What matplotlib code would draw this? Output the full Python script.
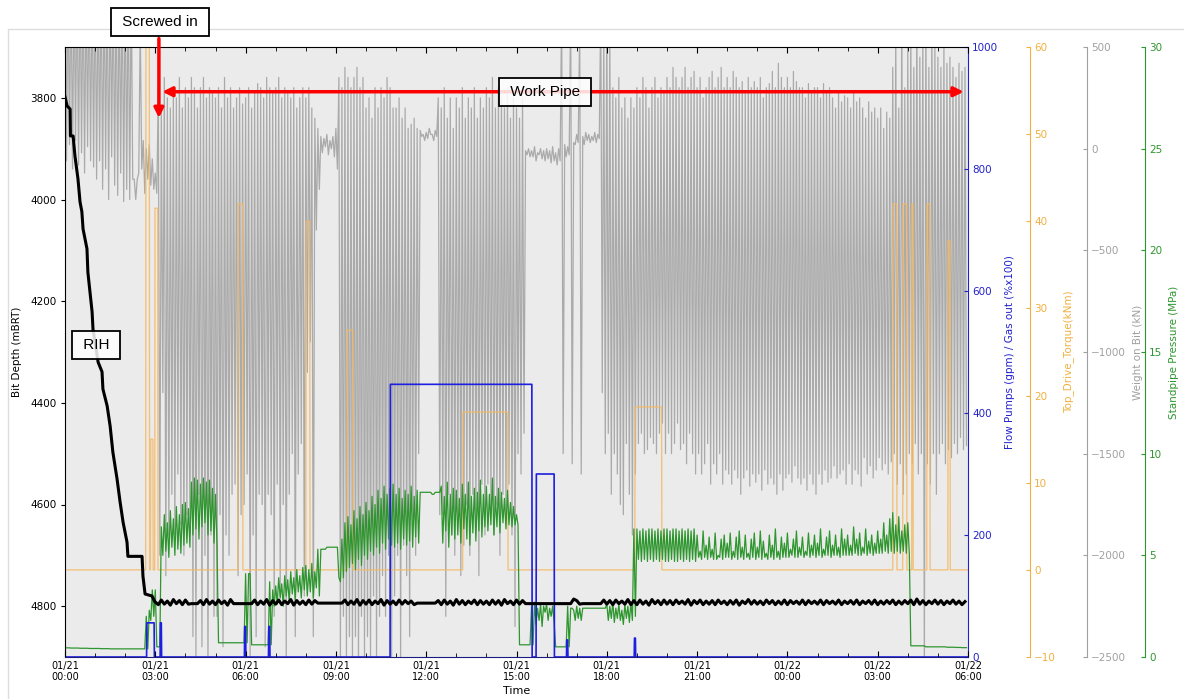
import matplotlib
matplotlib.use('Agg')
import matplotlib.pyplot as plt
from matplotlib.patches import Rectangle
from matplotlib.ticker import MultipleLocator

# time axis in hours since 01/21 00:00
tick_hours = [0, 3, 6, 9, 12, 15, 18, 21, 24, 27, 30]
tick_labels = ['01/21\n00:00', '01/21\n03:00', '01/21\n06:00', '01/21\n09:00',
               '01/21\n12:00', '01/21\n15:00', '01/21\n18:00', '01/21\n21:00',
               '01/22\n00:00', '01/22\n03:00', '01/22\n06:00']

# bit depth while running in hole (mBRT)
rih_t = [0.0, 0.07, 0.17, 0.18, 0.27, 0.33, 0.43, 0.50, 0.56, 0.60, 0.73, 0.76, 0.83,
         0.90, 0.93, 1.10, 1.23, 1.26, 1.40, 1.50, 1.59, 1.73, 1.83, 1.93, 2.06, 2.09,
         2.56, 2.59, 2.66, 2.89, 2.99]
rih_depth = [3798, 3816, 3822, 3875, 3875, 3914, 3959, 4005, 4024, 4058, 4097, 4143, 4182,
             4221, 4255, 4320, 4339, 4373, 4406, 4446, 4497, 4550, 4595, 4635, 4674, 4702,
             4702, 4741, 4776, 4780, 4792]
# bit depth on bottom, every 0.1 h from 03:00
depth_bottom = [
    4792, 4797, 4788, 4796, 4790, 4798, 4787, 4795, 4789, 4797,
    4788, 4796, 4795, 4795, 4795, 4789, 4797, 4787, 4796, 4790,
    4797, 4788, 4795, 4790, 4798, 4787, 4795, 4795, 4795, 4795,
    4795, 4795, 4795, 4788, 4797, 4790, 4796, 4787, 4798, 4789,
    4796, 4788, 4797, 4790, 4795, 4787, 4798, 4789, 4796, 4790,
    4797, 4788, 4796, 4789, 4794, 4794, 4794, 4794, 4794, 4794,
    4794, 4794, 4794, 4788, 4797, 4790, 4796, 4787, 4798, 4789,
    4796, 4788, 4797, 4790, 4795, 4787, 4798, 4789, 4796, 4790,
    4797, 4788, 4796, 4789, 4795, 4790, 4797, 4794, 4794, 4794,
    4794, 4794, 4794, 4794, 4789, 4797, 4788, 4796, 4790, 4798,
    4787, 4796, 4789, 4797, 4790, 4795, 4788, 4797, 4789, 4796,
    4790, 4797, 4788, 4796, 4789, 4798, 4787, 4795, 4790, 4797,
    4788, 4796, 4789, 4795, 4795, 4795, 4795, 4795, 4795, 4795,
    4795, 4795, 4795, 4795, 4795, 4795, 4795, 4795, 4795, 4786,
    4789, 4796, 4795, 4795, 4795, 4795, 4795, 4795, 4795, 4788,
    4796, 4789, 4797, 4788, 4795, 4790, 4796, 4787, 4797, 4789,
    4797, 4788, 4796, 4790, 4798, 4787, 4795, 4789, 4797, 4788,
    4796, 4789, 4797, 4788, 4795, 4790, 4796, 4787, 4798, 4789,
    4795, 4788, 4797, 4790, 4796, 4789, 4797, 4788, 4795, 4790,
    4797, 4789, 4796, 4788, 4798, 4790, 4795, 4787, 4796, 4789,
    4796, 4790, 4797, 4788, 4795, 4789, 4797, 4790, 4796, 4788,
    4797, 4789, 4795, 4790, 4796, 4788, 4797, 4789, 4795, 4790,
    4796, 4788, 4797, 4789, 4795, 4790, 4796, 4788, 4797, 4790,
    4795, 4789, 4796, 4788, 4797, 4790, 4795, 4789, 4796, 4788,
    4797, 4790, 4796, 4789, 4795, 4788, 4797, 4790, 4796, 4789,
    4795, 4788, 4797, 4786, 4796, 4789, 4797, 4790, 4795, 4788,
    4796, 4789, 4797, 4790, 4795, 4788, 4796, 4790, 4797, 4791,
]

# weight on bit (kN): upper and lower end of each swing, every 0.1 h
wob_high = [
    900, 880, 900, 870, 900, 890, 900, 860, 900, 880,
    900, 870, 900, 880, 900, 900, 870, 900, 880, 900,
    900, 880, 850, -150, -150, 600, 40, 0, 20, -50,
    -120, 300, 200, 350, 250, 200, 300, 250, 350, 200,
    300, 250, 350, 300, 200, 300, 350, 250, 300, 280,
    250, 300, 200, 350, 250, 300, 200, 250, 300, 220,
    250, 300, 200, 280, 320, 300, 250, 350, 300, 280,
    300, 350, 250, 300, 280, 250, 300, 200, 250, 300,
    250, 300, 200, 150, 100, 60, 50, 70, 40, 60,
    100, 350, 300, 400, 350, 300, 350, 400, 300, 350,
    200, 250, 150, 300, 200, 300, 250, 350, 300, 200,
    200, 250, 150, 200, 100, 120, 150, 100, 90, 70,
    80, 100, 70, 90, 250, 200, 300, 150, 250, 100,
    250, 200, 300, 150, 250, 200, 300, 150, 250, 200,
    300, 250, 350, 200, 300, 250, 200, 300, 150, 250,
    200, 150, 250, -10, 0, -10, 10, -20, 0, -10,
    0, -10, 10, -20, 0, 700, 20, 10, 700, 30,
    70, 600, 60, 80, 70, 60, 80, 70, 700, 600,
    700, 600, 300, 250, 350, 200, 250, 150, 250, 200,
    300, 250, 350, 300, 200, 300, 350, 250, 300, 280,
    350, 300, 400, 350, 300, 350, 400, 300, 350, 380,
    300, 350, 250, 300, 350, 380, 300, 350, 400, 300,
    350, 300, 380, 350, 300, 330, 280, 350, 300, 330,
    300, 350, 250, 300, 320, 380, 300, 420, 350, 300,
    350, 300, 380, 330, 300, 300, 250, 320, 280, 300,
    300, 250, 320, 280, 300, 250, 200, 280, 230, 260,
    250, 200, 280, 230, 250, 200, 150, 230, 180, 200,
    150, 200, 100, 180, 150, 400, 600, 200, 700, 300,
    500, 600, 400, 700, 450, 600, 700, 400, 650, 500,
    450, 400, 500, 420, 450, 400, 350, 420, 380, 400,
]
wob_low = [
    -60, 20, -100, 40, -80, -20, -120, 10, -60, -90,
    -150, -60, -200, -100, -250, -40, -180, -230, -120, -260,
    -200, -250, -150, -250, -120, -100, -220, -150, -180, -200,
    -220, -2000, -1200, -2100, -1900, -1700, -1900, -1600, -1850, -2000,
    -1800, -1900, -2400, -2500, -1700, -2450, -2000, -2600, -1900, -2300,
    -2300, -1800, -2450, -1900, -2000, -1700, -1650, -2100, -1800, -1750,
    -1600, -2500, -1900, -2400, -1700, -1750, -2450, -1700, -1800, -2300,
    -1650, -2200, -1750, -2500, -1700, -1500, -2400, -1600, -1450, -2200,
    -1100, -950, -2400, -400, -200, -20, 10, -30, 0, -40,
    -100, -2500, -2300, -2500, -2400, -2500, -2400, -2550, -2300, -2500,
    -2400, -2500, -2200, -2500, -2300, -2100, -2300, -2000, -2500, -2200,
    -2000, -2500, -1950, -2100, -2400, -1900, -2000, -1500, 60, 40,
    50, 70, 40, 60, -1800, -1800, -2300, -1700, -1900, -2000,
    -1800, -2100, -1950, -1750, -2000, -1700, -1850, -2100, -1650, -1900,
    -1650, -1800, -1900, -1750, -2000, -1700, -1800, -1650, -1900, -2350,
    -1500, -1600, -1400, -30, -40, -40, -60, -30, -50, -60,
    -50, -70, -60, -80, -60, -1500, -40, -30, -1550, 20,
    30, -1600, 20, 40, 30, 40, 30, 50, -1200, -1500,
    -1400, -1700, -1500, -1600, -1750, -1800, -1450, -1700, -1900, -1600,
    -1450, -1400, -1500, -1480, -1420, -1450, -1500, -1400, -1350, -1500,
    -1400, -1500, -1450, -1350, -1480, -1450, -1550, -1400, -1500, -1600,
    -1500, -1600, -1550, -1450, -1650, -1550, -1600, -1500, -1650, -1580,
    -1600, -1650, -1580, -1620, -1700, -1620, -1580, -1660, -1600, -1640,
    -1600, -1680, -1580, -1650, -1620, -1650, -1700, -1600, -1680, -1620,
    -1600, -1640, -1560, -1620, -1650, -1620, -1680, -1600, -1650, -1700,
    -1600, -1650, -1580, -1640, -1620, -1560, -1620, -1600, -1580, -1650,
    -1550, -1650, -1580, -1600, -1660, -1520, -1600, -1560, -1620, -1580,
    -1520, -1580, -1550, -1600, -1540, -1500, -1650, -1550, -1700, -1600,
    -1500, -1550, -1450, -1600, -1500, -2600, -1550, -1650, -1500, -1700,
    -1500, -1450, -1550, -1480, -1520, -1450, -1500, -1420, -1480, -1460,
]

# standpipe pressure (MPa): upper and lower end of each swing, every 0.1 h
spp_high = [
    0.45, 0.45, 0.44, 0.44, 0.44, 0.43, 0.43, 0.43, 0.42, 0.42,
    0.42, 0.42, 0.41, 0.41, 0.41, 0.40, 0.40, 0.40, 0.40, 0.40,
    0.40, 0.40, 0.40, 0.40, 0.40, 0.40, 0.40, 2.0, 2.3, 3.3,
    3.3, 0.5, 6.4, 7.0, 6.6, 7.2, 6.8, 7.4, 7.0, 7.5,
    7.6, 7.3, 8.6, 8.8, 8.7, 8.5, 8.8, 8.6, 8.7, 8.3,
    8.0, 0.7, 0.7, 0.7, 0.7, 0.7, 0.7, 0.7, 0.7, 0.7,
    4.1, 4.1, 0.6, 0.6, 0.6, 0.6, 0.6, 0.6, 3.7, 3.3,
    3.5, 3.9, 3.6, 4.0, 3.8, 4.2, 3.9, 4.3, 4.0, 4.4,
    4.5, 4.3, 4.6, 4.2, 5.3, 5.3, 5.3, 5.4, 5.4, 5.4,
    5.4, 3.9, 5.8, 6.6, 6.9, 6.5, 7.2, 6.8, 7.4, 7.0,
    7.6, 7.2, 7.9, 7.5, 8.2, 7.8, 8.4, 8.0, 8.3, 8.5,
    8.0, 8.3, 7.8, 8.2, 8.0, 8.4, 7.9, 8.2, 8.1, 8.1,
    8.1, 8.1, 8.0, 8.1, 8.1, 8.4, 7.9, 8.6, 8.0, 8.3,
    8.2, 7.8, 8.5, 8.0, 8.6, 7.9, 8.3, 8.1, 8.7, 8.0,
    8.4, 8.0, 8.8, 7.9, 8.3, 8.1, 7.8, 8.2, 7.6, 7.4,
    7.0, 0.6, 0.6, 0.6, 0.6, 2.5, 2.7, 2.4, 2.6, 2.5,
    2.6, 2.4, 2.5, 0.5, 0.5, 0.5, 0.5, 2.5, 2.4, 2.3,
    2.5, 2.4, 2.4, 2.4, 2.4, 2.4, 2.4, 2.4, 2.4, 2.4,
    2.6, 2.5, 2.7, 2.4, 2.6, 2.3, 2.6, 2.5, 2.7, 6.3,
    6.3, 6.2, 6.3, 6.2, 6.3, 6.3, 6.2, 6.3, 6.2, 6.3,
    6.3, 6.2, 6.3, 6.3, 6.2, 6.3, 6.2, 6.3, 6.2, 6.3,
    6.0, 5.2, 6.2, 5.5, 5.9, 5.3, 6.1, 5.0, 5.8, 6.0,
    5.6, 6.1, 5.2, 5.9, 6.2, 5.4, 6.0, 5.1, 5.8, 6.1,
    5.4, 6.2, 5.7, 5.1, 6.0, 5.5, 6.3, 5.2, 5.9, 5.6,
    6.1, 5.3, 5.8, 6.2, 5.4, 5.9, 5.2, 6.1, 5.5, 6.0,
    5.6, 6.3, 5.3, 5.9, 6.2, 5.5, 6.0, 5.4, 6.3, 5.8,
    6.0, 5.5, 6.4, 5.8, 6.1, 5.4, 6.3, 5.7, 6.0, 5.6,
    6.2, 5.8, 6.6, 6.0, 6.8, 7.1, 6.5, 6.9, 6.2, 6.5,
    6.6, 0.55, 0.55, 0.55, 0.55, 0.55, 0.50, 0.50, 0.50, 0.50,
    0.50, 0.50, 0.50, 0.48, 0.48, 0.48, 0.47, 0.47, 0.46, 0.46,
]
spp_low = [
    0.45, 0.45, 0.44, 0.44, 0.44, 0.43, 0.43, 0.43, 0.42, 0.42,
    0.42, 0.42, 0.41, 0.41, 0.41, 0.40, 0.40, 0.40, 0.40, 0.40,
    0.40, 0.40, 0.40, 0.40, 0.40, 0.40, 0.40, 0.40, 1.8, 2.0,
    0.5, 0.5, 5.0, 5.2, 4.9, 5.4, 5.0, 5.3, 5.1, 5.5,
    5.6, 5.4, 6.0, 6.3, 5.8, 6.4, 6.6, 6.0, 6.2, 5.6,
    5.5, 0.7, 0.7, 0.7, 0.7, 0.7, 0.7, 0.7, 0.7, 0.7,
    0.7, 4.1, 0.6, 0.6, 0.6, 0.6, 0.6, 0.6, 0.6, 2.5,
    2.6, 2.9, 2.5, 3.0, 2.7, 3.1, 2.8, 3.2, 2.9, 3.3,
    3.0, 3.2, 2.9, 3.4, 3.0, 5.3, 5.3, 5.4, 5.4, 5.4,
    5.4, 3.7, 3.9, 4.2, 4.4, 4.6, 4.3, 4.8, 4.5, 5.0,
    4.8, 5.2, 5.0, 5.4, 5.1, 5.6, 5.3, 5.8, 5.5, 5.4,
    5.6, 5.3, 5.8, 5.5, 5.7, 5.4, 5.9, 5.6, 8.1, 8.1,
    8.1, 8.1, 8.0, 8.1, 8.1, 5.6, 6.2, 5.4, 6.0, 5.8,
    6.0, 5.6, 6.3, 5.8, 5.5, 6.1, 5.7, 6.2, 5.9, 6.4,
    6.2, 6.5, 6.0, 6.4, 6.1, 6.6, 6.3, 6.5, 6.4, 6.5,
    6.5, 0.6, 0.6, 0.6, 0.6, 0.6, 1.6, 1.8, 1.5, 2.2,
    1.8, 2.0, 1.7, 0.5, 0.5, 0.5, 0.5, 0.5, 2.4, 1.8,
    1.9, 1.8, 2.4, 2.4, 2.4, 2.4, 2.4, 2.4, 2.4, 2.4,
    1.8, 1.9, 1.7, 1.9, 1.8, 1.6, 1.9, 1.7, 1.8, 2.0,
    4.8, 4.7, 4.8, 4.7, 4.8, 4.7, 4.8, 4.7, 4.8, 4.7,
    4.7, 4.8, 4.7, 4.7, 4.8, 4.7, 4.8, 4.7, 4.8, 4.7,
    4.9, 4.8, 4.9, 4.8, 4.9, 4.8, 4.8, 4.9, 4.8, 4.9,
    4.9, 4.8, 4.9, 4.8, 4.9, 4.8, 4.9, 4.8, 4.9, 4.8,
    4.9, 4.8, 4.9, 4.8, 4.9, 4.8, 4.9, 4.8, 4.9, 4.9,
    4.9, 5.0, 4.9, 4.9, 5.0, 4.9, 5.0, 4.9, 5.0, 4.9,
    5.0, 4.9, 5.0, 5.0, 4.9, 5.0, 5.0, 4.9, 5.0, 5.0,
    5.0, 5.0, 5.1, 5.0, 5.0, 5.1, 5.0, 5.1, 5.0, 5.1,
    5.1, 5.1, 5.2, 5.1, 5.2, 5.1, 5.2, 5.1, 5.2, 5.1,
    5.1, 0.55, 0.55, 0.55, 0.55, 0.55, 0.50, 0.50, 0.50, 0.50,
    0.50, 0.50, 0.50, 0.48, 0.48, 0.48, 0.47, 0.47, 0.46, 0.46,
]

# top drive torque (kNm): pulses above a zero baseline
torque_start = [2.69, 2.85, 2.99, 5.75, 8.01, 9.38, 13.22, 18.94, 27.51, 27.84, 28.14, 28.64, 29.34]
torque_end = [2.80, 2.92, 3.08, 5.90, 8.13, 9.56, 14.71, 19.82, 27.63, 27.96, 28.17, 28.73, 29.40]
torque_level = [70, 15, 41.5, 42, 40, 27.5, 18.1, 18.7, 42, 42, 42, 42, 37.8]

# flow pumps (gpm): pulses above zero
flow_start = [2.72, 3.17, 5.97, 6.77, 10.81, 15.66, 16.67, 18.92]
flow_end = [2.96, 3.20, 6.00, 6.80, 15.51, 16.25, 16.70, 18.95]
flow_level = [56, 56, 50, 50, 447, 300, 28, 31]


def swings(high, low, step=0.1):
    t, v = [], []
    for i in range(len(high)):
        t += [i * step, i * step + step / 2]
        v += [high[i], low[i]]
    return t, v


def pulses(starts, ends, levels, base=0.0, ramp=0.01):
    t, v = [0.0], [base]
    for s, e, lvl in zip(starts, ends, levels):
        t += [s - ramp, s, e, e + ramp]
        v += [base, lvl, lvl, base]
    t.append(30.0)
    v.append(base)
    return t, v


plt.rcParams['font.family'] = 'DejaVu Sans'
plt.rcParams['font.size'] = 7.5

fig = plt.figure(figsize=(11.84, 6.99), dpi=100)
fig.add_artist(Rectangle((8 / 1184, -0.01), 1.0, 1 - 29 / 699 + 0.01, transform=fig.transFigure,
                         fill=False, edgecolor='#dddddd', lw=1))

ax = fig.add_axes([65 / 1184, 1 - 657 / 699, 903 / 1184, 610 / 699])
ax_w = ax.twinx()
ax_q = ax.twinx()
ax_p = ax.twinx()
ax_f = ax.twinx()

ax.set_zorder(10)
ax.patch.set_visible(False)
ax_w.set_zorder(1)
ax_w.patch.set_visible(True)
ax_w.set_facecolor('#ebebeb')
ax_q.set_zorder(2)
ax_p.set_zorder(3)
ax_f.set_zorder(4)

c_blue, c_orange, c_gray, c_green = '#2222cc', '#f0b040', '#a0a0a0', '#2e962e'

wt, wv = swings(wob_high, wob_low)
ax_w.plot(wt, wv, color='#aaaaaa', lw=0.9)
qt, qv = pulses(torque_start, torque_end, torque_level)
ax_q.plot(qt, qv, color='#f5b860', lw=1.0, alpha=0.8)
pt, pv = swings(spp_high, spp_low)
ax_p.plot(pt, pv, color=c_green, lw=0.9)
ft, fv = pulses(flow_start, flow_end, flow_level)
ax_f.plot(ft, fv, color='#1e1ee0', lw=1.2)

bt = rih_t + [3.0 + 0.1 * i for i in range(len(depth_bottom))]
bv = rih_depth + depth_bottom
ax.plot(bt, bv, color='black', lw=2.2)

ax.set_xlim(0, 30)
ax.set_ylim(4900, 3700)
ax.set_yticks([3800, 4000, 4200, 4400, 4600, 4800])
ax.set_ylabel('Bit Depth (mBRT)', labelpad=6)
ax.set_xlabel('Time', fontsize=8, labelpad=3)
ax.set_xticks(tick_hours)
ax.set_xticklabels(tick_labels, fontsize=7, linespacing=1.1)
ax.xaxis.set_minor_locator(MultipleLocator(1))
ax.tick_params(axis='x', which='both', direction='in', top=True, pad=3)
ax.tick_params(axis='x', which='major', length=4)
ax.tick_params(axis='x', which='minor', length=3)
ax.tick_params(axis='y', direction='out', length=3, pad=3)
ax.spines['right'].set_visible(False)
ax.spines['bottom'].set_color('#1c1c80')

axes_info = [
    (ax_f, 1.0, (0, 1000), 200, c_blue, 'Flow Pumps (gpm) / Gas out (%x100)'),
    (ax_q, 1.0687, (-10, 60), 10, c_orange, 'Top_Drive_Torque(kNm)'),
    (ax_w, 1.1318, (-2500, 500), 500, c_gray, 'Weight on Bit (kN)'),
    (ax_p, 1.196, (0, 30), 5, c_green, 'Standpipe Pressure (MPa)'),
]
for a, pos, lim, step, col, label in axes_info:
    a.set_ylim(*lim)
    a.yaxis.set_major_locator(MultipleLocator(step))
    for s in ['top', 'bottom', 'left']:
        a.spines[s].set_visible(False)
    a.spines['right'].set_position(('axes', pos))
    a.spines['right'].set_color(col)
    a.tick_params(axis='y', direction='in', length=3, pad=3, colors=col)
    a.set_ylabel(label, color=col, labelpad=5)

# annotations
box = dict(boxstyle='square,pad=0.45', fc=(1, 1, 1, 0.85), ec='black', lw=1.3)
fig.text(160 / 1184, 1 - 22 / 699, ' Screwed in ', ha='center', va='center', fontsize=11,
         family='Liberation Sans', bbox=dict(boxstyle='square,pad=0.45', fc='white', ec='black', lw=1.3),
         zorder=20)
ax.annotate('', xy=(3.12, 3845), xytext=(3.12, 3678),
            arrowprops=dict(arrowstyle='-|>', color='red', lw=2.5, mutation_scale=14),
            annotation_clip=False)
ax.annotate('', xy=(3.14, 3788), xytext=(29.95, 3788),
            arrowprops=dict(arrowstyle='<|-|>', color='red', lw=2.5, mutation_scale=14))
ax.text(15.95, 3788, ' Work Pipe ', ha='center', va='center', fontsize=11,
        family='Liberation Sans', bbox=box)
ax.text(1.03, 4286, ' RIH ', ha='center', va='center', fontsize=11,
        family='Liberation Sans', bbox=box)

fig.savefig('out.png', dpi=100)
